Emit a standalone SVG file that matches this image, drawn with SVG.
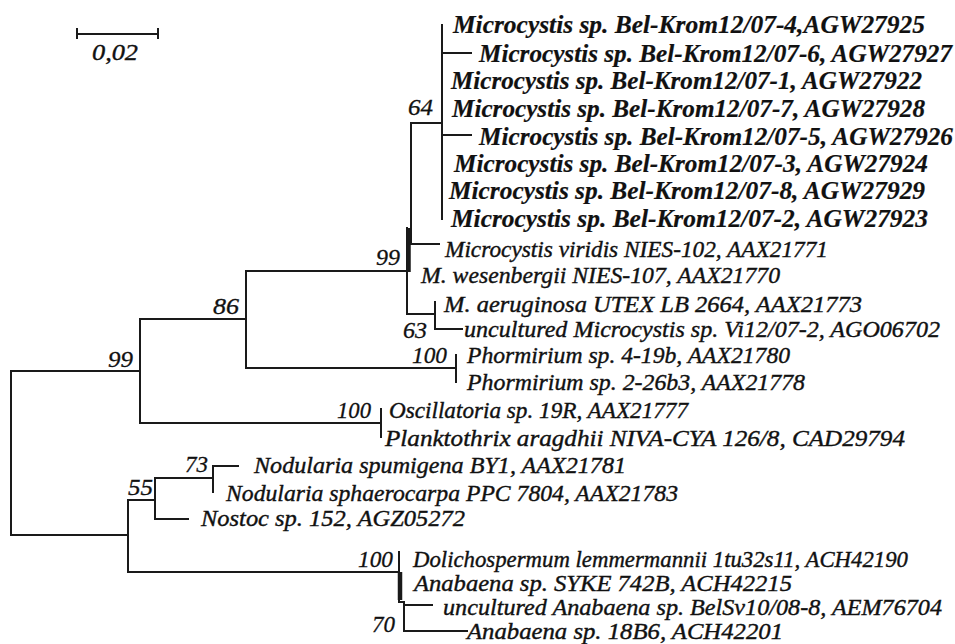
<svg xmlns="http://www.w3.org/2000/svg" width="955" height="644" viewBox="0 0 955 644">
<style>
.br{fill:none;stroke:#1a1a1a;stroke-width:2;stroke-linecap:square}
.thick{fill:none;stroke:#1a1a1a;stroke-width:4.5}
text{font-family:"Liberation Serif","Times New Roman",serif;font-style:italic;fill:#111111}
.tb{font-size:25px;font-weight:bold;stroke:#111111;stroke-width:0.2}
.tr{font-size:24px;stroke:#111111;stroke-width:0.4}
.bs{font-size:23px;stroke:#111111;stroke-width:0.3}
</style>
<rect width="955" height="644" fill="#ffffff"/>
<g id="scale">
<path class="br" d="M77,34 H158 M77,29 V38 M158,29 V38"/>
<text class="tr" x="92" y="60" textLength="46" lengthAdjust="spacingAndGlyphs">0,02</text>
</g>
<g id="connectors">
<path class="br" d="M11,371 V535 M11,371 H140 M11,535 H128"/>
<path class="br" d="M140,319 V423 M140,319 H246 M140,423 H381 M381,409 V437"/>
<path class="br" d="M246,271 V368 M246,271 H407 M246,368 H456 M456,355 V382"/>
<path class="br" d="M407,228 V314 M411,123 V244 M411,244 H439 M411,123 H442 M442,25 V219 M442,53 H471 M442,135 H471"/>
<path class="thick" d="M408.5,228 V272"/>
<path class="br" d="M407,314 H435 M435,302 V329 M435,329 H462"/>
<path class="br" d="M128,500 V572 M128,500 H155 M155,478 V519 M155,478 H213 M213,466 V492 M213,466 H238 M155,519 H188"/>
<path class="br" d="M128,572 H399 M399,552 V602 H404 V631 M404,605 H432 M404,631 H467"/>
<path class="thick" d="M400,572 V600"/>
</g>
<g id="bootstrap">
<text class="bs" x="408" y="115" textLength="25" lengthAdjust="spacingAndGlyphs">64</text>
<text class="bs" x="376" y="265" textLength="24" lengthAdjust="spacingAndGlyphs">99</text>
<text class="bs" x="403" y="338" textLength="24" lengthAdjust="spacingAndGlyphs">63</text>
<text class="bs" x="213" y="314" textLength="26" lengthAdjust="spacingAndGlyphs">86</text>
<text class="bs" x="108" y="367" textLength="25" lengthAdjust="spacingAndGlyphs">99</text>
<text class="bs" x="412" y="363" textLength="35" lengthAdjust="spacingAndGlyphs">100</text>
<text class="bs" x="337" y="418" textLength="34" lengthAdjust="spacingAndGlyphs">100</text>
<text class="bs" x="185" y="472" textLength="23" lengthAdjust="spacingAndGlyphs">73</text>
<text class="bs" x="128" y="495" textLength="25" lengthAdjust="spacingAndGlyphs">55</text>
<text class="bs" x="358" y="567" textLength="35" lengthAdjust="spacingAndGlyphs">100</text>
<text class="bs" x="372" y="632" textLength="23" lengthAdjust="spacingAndGlyphs">70</text>
</g>
<g id="leaf-bk4"><text class="tb" x="453" y="33" textLength="472" lengthAdjust="spacingAndGlyphs">Microcystis sp. Bel-Krom12/07-4,AGW27925</text></g>
<g id="leaf-bk6"><text class="tb" x="479" y="62" textLength="473" lengthAdjust="spacingAndGlyphs">Microcystis sp. Bel-Krom12/07-6, AGW27927</text></g>
<g id="leaf-bk1"><text class="tb" x="451" y="89" textLength="471" lengthAdjust="spacingAndGlyphs">Microcystis sp. Bel-Krom12/07-1, AGW27922</text></g>
<g id="leaf-bk7"><text class="tb" x="452" y="117" textLength="473" lengthAdjust="spacingAndGlyphs">Microcystis sp. Bel-Krom12/07-7, AGW27928</text></g>
<g id="leaf-bk5"><text class="tb" x="479" y="145" textLength="474" lengthAdjust="spacingAndGlyphs">Microcystis sp. Bel-Krom12/07-5, AGW27926</text></g>
<g id="leaf-bk3"><text class="tb" x="454" y="172" textLength="474" lengthAdjust="spacingAndGlyphs">Microcystis sp. Bel-Krom12/07-3, AGW27924</text></g>
<g id="leaf-bk8"><text class="tb" x="449" y="199" textLength="476" lengthAdjust="spacingAndGlyphs">Microcystis sp. Bel-Krom12/07-8, AGW27929</text></g>
<g id="leaf-bk2"><text class="tb" x="451" y="227" textLength="477" lengthAdjust="spacingAndGlyphs">Microcystis sp. Bel-Krom12/07-2, AGW27923</text></g>
<g id="leaf-viridis"><text class="tr" x="445" y="257" textLength="383" lengthAdjust="spacingAndGlyphs">Microcystis viridis NIES-102, AAX21771</text></g>
<g id="leaf-wesenbergii"><text class="tr" x="421" y="283" textLength="359" lengthAdjust="spacingAndGlyphs">M. wesenbergii NIES-107, AAX21770</text></g>
<g id="leaf-aeruginosa"><text class="tr" x="444" y="312" textLength="418" lengthAdjust="spacingAndGlyphs">M. aeruginosa UTEX LB 2664, AAX21773</text></g>
<g id="leaf-unc-micro"><text class="tr" x="464" y="337" textLength="476" lengthAdjust="spacingAndGlyphs">uncultured Microcystis sp. Vi12/07-2, AGO06702</text></g>
<g id="leaf-phorm1"><text class="tr" x="467" y="363" textLength="323" lengthAdjust="spacingAndGlyphs">Phormirium sp. 4-19b, AAX21780</text></g>
<g id="leaf-phorm2"><text class="tr" x="467" y="390" textLength="338" lengthAdjust="spacingAndGlyphs">Phormirium sp. 2-26b3, AAX21778</text></g>
<g id="leaf-oscill"><text class="tr" x="389" y="418" textLength="299" lengthAdjust="spacingAndGlyphs">Oscillatoria sp. 19R, AAX21777</text></g>
<g id="leaf-plankto"><text class="tr" x="385" y="446" textLength="520" lengthAdjust="spacingAndGlyphs">Planktothrix aragdhii NIVA-CYA 126/8, CAD29794</text></g>
<g id="leaf-nod-spum"><text class="tr" x="254" y="473" textLength="372" lengthAdjust="spacingAndGlyphs">Nodularia spumigena BY1, AAX21781</text></g>
<g id="leaf-nod-sphaer"><text class="tr" x="226" y="501" textLength="452" lengthAdjust="spacingAndGlyphs">Nodularia sphaerocarpa PPC 7804, AAX21783</text></g>
<g id="leaf-nostoc"><text class="tr" x="201" y="526" textLength="264" lengthAdjust="spacingAndGlyphs">Nostoc sp. 152, AGZ05272</text></g>
<g id="leaf-dolicho"><text class="tr" x="413" y="567" textLength="495" lengthAdjust="spacingAndGlyphs">Dolichospermum lemmermannii 1tu32s11, ACH42190</text></g>
<g id="leaf-ana-syke"><text class="tr" x="414" y="591" textLength="378" lengthAdjust="spacingAndGlyphs">Anabaena sp. SYKE 742B, ACH42215</text></g>
<g id="leaf-unc-ana"><text class="tr" x="443" y="615" textLength="499" lengthAdjust="spacingAndGlyphs">uncultured Anabaena sp. BelSv10/08-8, AEM76704</text></g>
<g id="leaf-ana-18b6"><text class="tr" x="467" y="639" textLength="316" lengthAdjust="spacingAndGlyphs" style="font-size:23px">Anabaena sp. 18B6, ACH42201</text></g>
</svg>
